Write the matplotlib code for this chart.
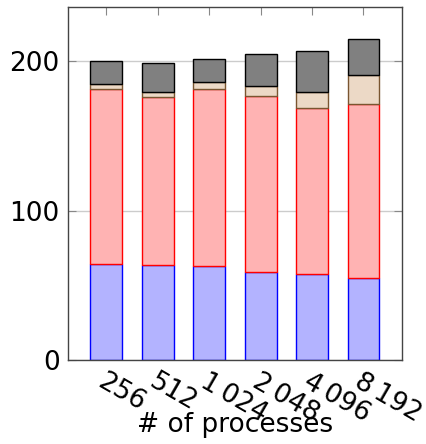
import numpy as np
import matplotlib.pyplot as plt

# Data
procs = ['256', '512', '1\u2009024', '2\u2009048', '4\u2009096', '8\u2009192']
blue = [64.0, 63.8, 63.1, 59.1, 57.7, 54.6]
red = [117.5, 111.9, 117.9, 117.2, 110.7, 116.4]
tan = [2.9, 3.3, 4.7, 7.0, 10.6, 19.8]
gray = [15.4, 19.7, 15.9, 21.4, 27.7, 23.7]

plt.rcParams['font.family'] = 'DejaVu Sans'

fig = plt.figure(figsize=(4.27, 4.44), dpi=100)
ax = fig.add_axes([0.159, 0.189, 0.782, 0.795])

x = np.arange(len(procs))
w = 0.62
series = [
    (blue, '#b3b3ff', '#0000ff'),
    (red, '#ffb3b3', '#ff0000'),
    (tan, '#ecd9c6', '#7a5530'),
    (gray, '#808080', '#000000'),
]
bottom = np.zeros(len(procs))
for vals, fc, ec in series:
    ax.bar(x, vals, w, bottom=bottom, color=fc, edgecolor=ec, linewidth=1.0, zorder=2)
    bottom += np.array(vals)

ax.set_xlim(-0.745, 5.745)
ax.set_ylim(0, 236)
ax.set_yticks([0, 100, 200])
ax.set_yticklabels(['0', '100', '200'], fontsize=19)
ax.yaxis.grid(True, color='#cccccc', linewidth=1.0, zorder=0)
ax.set_axisbelow(True)

ax.set_xticks(x)
ax.set_xticklabels(procs, fontsize=19, rotation=-30, ha='left', va='top',
                   rotation_mode='anchor')
ax.tick_params(axis='x', direction='in', top=True, length=6, color='#888888', pad=6)
ax.tick_params(axis='y', direction='in', right=True, length=6, color='#888888', pad=6)
for s in ax.spines.values():
    s.set_color('#444444')
    s.set_linewidth(1.0)

# x label placed by hand, it sits over the rotated tick labels
fig.text(0.55, 0.043, '# of processes', fontsize=19, ha='center', va='center')

fig.savefig('out.png', dpi=100)
